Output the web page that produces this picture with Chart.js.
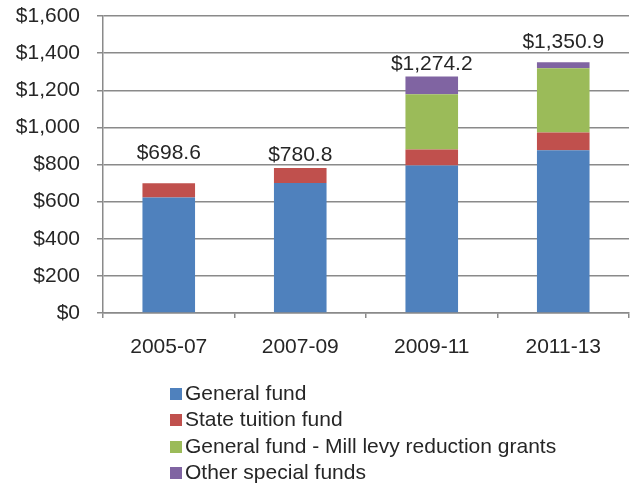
<!DOCTYPE html>
<html>
<head>
<meta charset="utf-8">
<script src="https://cdn.jsdelivr.net/npm/chart.js@4/dist/chart.umd.min.js"></script>
<style>
  html, body { margin: 0; padding: 0; background: #fff; }
  #wrap { position: relative; width: 630px; height: 484px; }
  #legend { position: absolute; left: 170px; top: 380px; font: 21px "Liberation Sans", Arial, sans-serif; color: #262626; }
  #legend div { height: 26.3px; line-height: 26px; white-space: nowrap; }
  #legend span.box { display: inline-block; width: 12px; height: 12px; margin-right: 3px; vertical-align: 0px; }
</style>
</head>
<body>
<div id="wrap">
  <canvas id="chart" width="630" height="484"></canvas>
  <div id="legend"></div>
</div>
<script>
// Données (millions $)
const periods = ['2005-07', '2007-09', '2009-11', '2011-13'];
const generalFund = [622, 700, 795, 877];
const stateTuition = [76.6, 80.8, 86, 96];
const millLevyGrants = [0, 0, 298, 345];
const otherSpecial = [0, 0, 95.2, 32.9];
const yTicks = [0, 200, 400, 600, 800, 1000, 1200, 1400, 1600];

// Décalage vertical des étiquettes de total (px au-dessus du haut de barre)
const labelLift = [30, 13, 12, 20];

const seriesColors = ['#4F81BD', '#C0504D', '#9BBB59', '#8064A2'];
const gridColor = '#8a8a8a';
const textColor = '#262626';
const fontFamily = '"Liberation Sans", Arial, sans-serif';

const totals = periods.map((p, i) =>
    generalFund[i] + stateTuition[i] + millLevyGrants[i] + otherSpecial[i]);

function money(v, decimals) {
    return '$' + v.toLocaleString('en-US', { minimumFractionDigits: decimals, maximumFractionDigits: decimals });
}

// Plugin pour afficher le total au-dessus de chaque barre
const totalLabelPlugin = {
    id: 'totalLabels',
    afterDatasetsDraw(chart) {
        const ctx = chart.ctx;
        const y = chart.scales.y;
        const x = chart.scales.x;
        ctx.save();
        ctx.font = '21px ' + fontFamily;
        ctx.fillStyle = textColor;
        ctx.textAlign = 'center';
        ctx.textBaseline = 'middle';
        totals.forEach((t, i) => {
            ctx.fillText(money(t, 1), x.getPixelForValue(i), y.getPixelForValue(t) - labelLift[i]);
        });
        ctx.restore();
    }
};

const datasets = [
    { label: 'General fund', data: generalFund },
    { label: 'State tuition fund', data: stateTuition },
    { label: 'General fund - Mill levy reduction grants', data: millLevyGrants },
    { label: 'Other special funds', data: otherSpecial }
].map((d, i) => Object.assign(d, {
    backgroundColor: seriesColors[i],
    borderWidth: 0,
    categoryPercentage: 1,
    barPercentage: 0.4
}));

const chart = new Chart(document.getElementById('chart').getContext('2d'), {
    type: 'bar',
    data: { labels: periods, datasets: datasets },
    options: {
        responsive: false,
        animation: false,
        layout: { padding: { top: 16, right: 1, left: 0, bottom: 0 } },
        plugins: {
            legend: { display: false },
            tooltip: { enabled: false }
        },
        scales: {
            x: {
                stacked: true,
                grid: { drawOnChartArea: false, offset: true, tickLength: 5, color: gridColor, lineWidth: 1.5 },
                border: { color: gridColor, width: 1.5 },
                ticks: { color: textColor, font: { family: fontFamily, size: 21 }, padding: 17 },
                afterFit(s) { s.height = 171; }
            },
            y: {
                stacked: true,
                min: 0,
                max: 1600,
                afterBuildTicks(s) { s.ticks = yTicks.map(v => ({ value: v })); },
                grid: { color: gridColor, lineWidth: 1.5, tickLength: 6 },
                border: { color: gridColor, width: 1.5 },
                ticks: {
                    color: textColor,
                    font: { family: fontFamily, size: 21 },
                    padding: 17,
                    callback: v => money(v, 0)
                },
                afterFit(s) {
                    s.width = 103;
                    // l'espace en haut est géré par layout.padding
                    s.paddingTop = 0;
                    s.paddingBottom = 0;
                }
            }
        }
    },
    plugins: [totalLabelPlugin]
});

// Légende HTML verticale
const legendEl = document.getElementById('legend');
chart.data.datasets.forEach(ds => {
    const row = document.createElement('div');
    const box = document.createElement('span');
    box.className = 'box';
    box.style.backgroundColor = ds.backgroundColor;
    row.appendChild(box);
    row.appendChild(document.createTextNode(ds.label));
    legendEl.appendChild(row);
});
</script>
</body>
</html>
